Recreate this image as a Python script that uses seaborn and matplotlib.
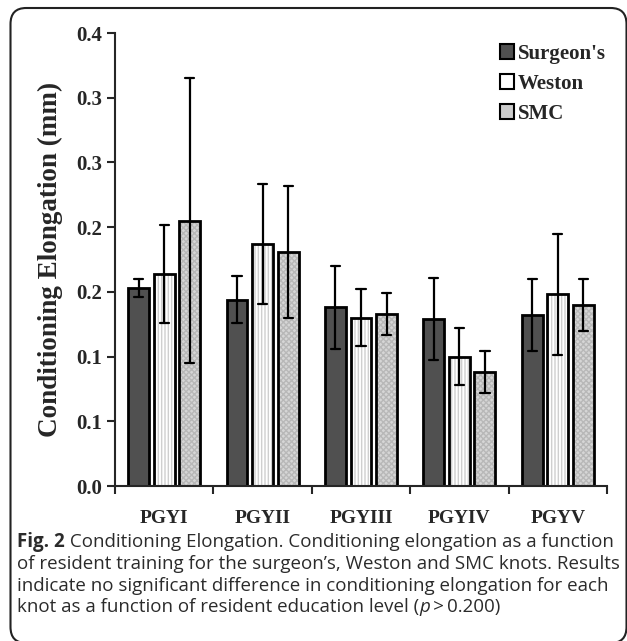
import matplotlib
matplotlib.use("Agg")
import matplotlib.pyplot as plt
import pandas as pd
import seaborn as sns
from matplotlib.patches import FancyBboxPatch, Rectangle

# values (mean +/- error, mm)
levels = ["PGYI", "PGYII", "PGYIII", "PGYIV", "PGYV"]
knots = ["Surgeon's", "Weston", "SMC"]
surgeons_mean = [0.153, 0.144, 0.138, 0.129, 0.132]
surgeons_err = [0.007, 0.018, 0.032, 0.032, 0.028]
weston_mean = [0.164, 0.187, 0.130, 0.100, 0.148]
weston_err = [0.038, 0.046, 0.022, 0.022, 0.047]
smc_mean = [0.205, 0.181, 0.133, 0.088, 0.140]
smc_err = [0.110, 0.051, 0.016, 0.016, 0.020]
ytick_values = [0.0, 0.05, 0.10, 0.15, 0.20, 0.25, 0.30, 0.35]
ytick_labels = ["0.0", "0.1", "0.1", "0.2", "0.2", "0.3", "0.3", "0.4"]

caption_lines = [
    [("Fig. 2", "bold"), (" Conditioning Elongation. Conditioning elongation as a function", "normal")],
    [("of resident training for the surgeon\u2019s, Weston and SMC knots. Results", "normal")],
    [("indicate no significant difference in conditioning elongation for each", "normal")],
    [("knot as a function of resident education level (", "normal"), ("p", "italic"), ("\u2009>\u20090.200)", "normal")],
]

rows = []
for knot, means, errs in zip(knots, [surgeons_mean, weston_mean, smc_mean],
                             [surgeons_err, weston_err, smc_err]):
    for lvl, m, e in zip(levels, means, errs):
        rows.append({"level": lvl, "knot": knot, "value": m - e})
        rows.append({"level": lvl, "knot": knot, "value": m + e})
df = pd.DataFrame(rows)

sns.set_style("ticks")
serif = ["Liberation Serif", "DejaVu Serif"]
sans = ["Open Sans", "DejaVu Sans"]
plt.rcParams["font.family"] = serif
plt.rcParams["hatch.linewidth"] = 1.0

fig = plt.figure(figsize=(6.27, 6.41), dpi=100)
ax = fig.add_axes([0.1834, 0.2418, 0.7847, 0.7067])

fills = {"Surgeon's": "#505050", "Weston": "#ffffff", "SMC": "#d6d6d6"}
sns.barplot(
    df, x="level", y="value", hue="knot", order=levels, hue_order=knots,
    palette=fills, estimator="mean", errorbar=lambda v: (v.min(), v.max()),
    width=0.78, gap=0.18, capsize=0.28, saturation=1,
    err_kws={"color": "black", "linewidth": 1.6},
    edgecolor="black", linewidth=2, ax=ax,
)

hatches = {"Surgeon's": None, "Weston": "|||||", "SMC": "xxxxxx"}
hatch_cols = {"Surgeon's": "black", "Weston": "#cfcfcf", "SMC": "#b8b8b8"}
for knot, cont in zip(knots, ax.containers):
    if hatches[knot] is None:
        continue
    for bar in cont:
        bar.set_hatch(hatches[knot])
        bar.set_edgecolor(hatch_cols[knot])
        bar.set_linewidth(0)
        ax.add_patch(Rectangle(bar.get_xy(), bar.get_width(), bar.get_height(),
                               fill=False, edgecolor="black", linewidth=2, zorder=bar.get_zorder() + 0.1))

ax.set_ylim(0, 0.35)
ax.set_xlim(-0.5, 4.5)
ax.set_yticks(ytick_values)
ax.set_yticklabels(ytick_labels, fontsize=15, fontweight="bold")
ax.set_xticks(range(len(levels)))
ax.set_xticklabels(levels, fontsize=14, fontweight="bold")
ax.tick_params(axis="x", length=0, pad=17)
ax.tick_params(axis="y", length=6, width=1.5, direction="out", pad=3)
ax.set_xticks([i - 0.5 for i in range(len(levels) + 1)], minor=True)
ax.tick_params(axis="x", which="minor", length=6, width=1.5, direction="out")
sns.despine(ax=ax)
for side in ["left", "bottom"]:
    ax.spines[side].set_linewidth(1.5)
ax.set_xlabel("")
ax.set_ylabel("Conditioning Elongation (mm)", fontsize=19.5, fontweight="bold", labelpad=10)

leg = ax.legend(loc="upper left", bbox_to_anchor=(0.744, 1.017), frameon=False,
                prop={"family": serif, "weight": "bold", "size": 15},
                handlelength=0.7, handleheight=0.7, handletextpad=0.15, labelspacing=0.48)
for h, knot in zip(leg.legend_handles, knots):
    h.set_edgecolor("black")
    h.set_linewidth(1.5)
    if hatches[knot]:
        h.set_facecolor(fills[knot] if knot == "Weston" else "#cccccc")

# rounded frame around the figure panel (bottom and right run off the image)
fig.patches.append(FancyBboxPatch((10.5 / 627, -2 / 641), 616 / 627, 635 / 641,
                                  boxstyle="round,pad=0,rounding_size=0.025",
                                  transform=fig.transFigure, fill=False,
                                  edgecolor="#222222", linewidth=1.5, figure=fig))

fig.canvas.draw()
renderer = fig.canvas.get_renderer()

# fit caption size so the first line spans the same width as the original
probe = fig.text(0, 0, "".join(t for t, _ in caption_lines[0]), fontsize=12, family=sans)
probe_w = probe.get_window_extent(renderer=renderer).width
probe.remove()
cap_size = 12 * 592 / probe_w


def write_line(parts, x0, y0):
    x = x0
    for txt, style in parts:
        kw = {"fontweight": "bold"} if style == "bold" else ({"style": "italic"} if style == "italic" else {})
        t = fig.text(x, y0, txt, fontsize=cap_size, family=sans, color="#2b2b2b", va="center", **kw)
        bb = t.get_window_extent(renderer=renderer)
        x = bb.x1 / fig.bbox.width


cap_x = 17 / 627
for i, parts in enumerate(caption_lines):
    write_line(parts, cap_x, 1 - (542 + 21.8 * i) / 641)

fig.savefig("out.png", dpi=100)
